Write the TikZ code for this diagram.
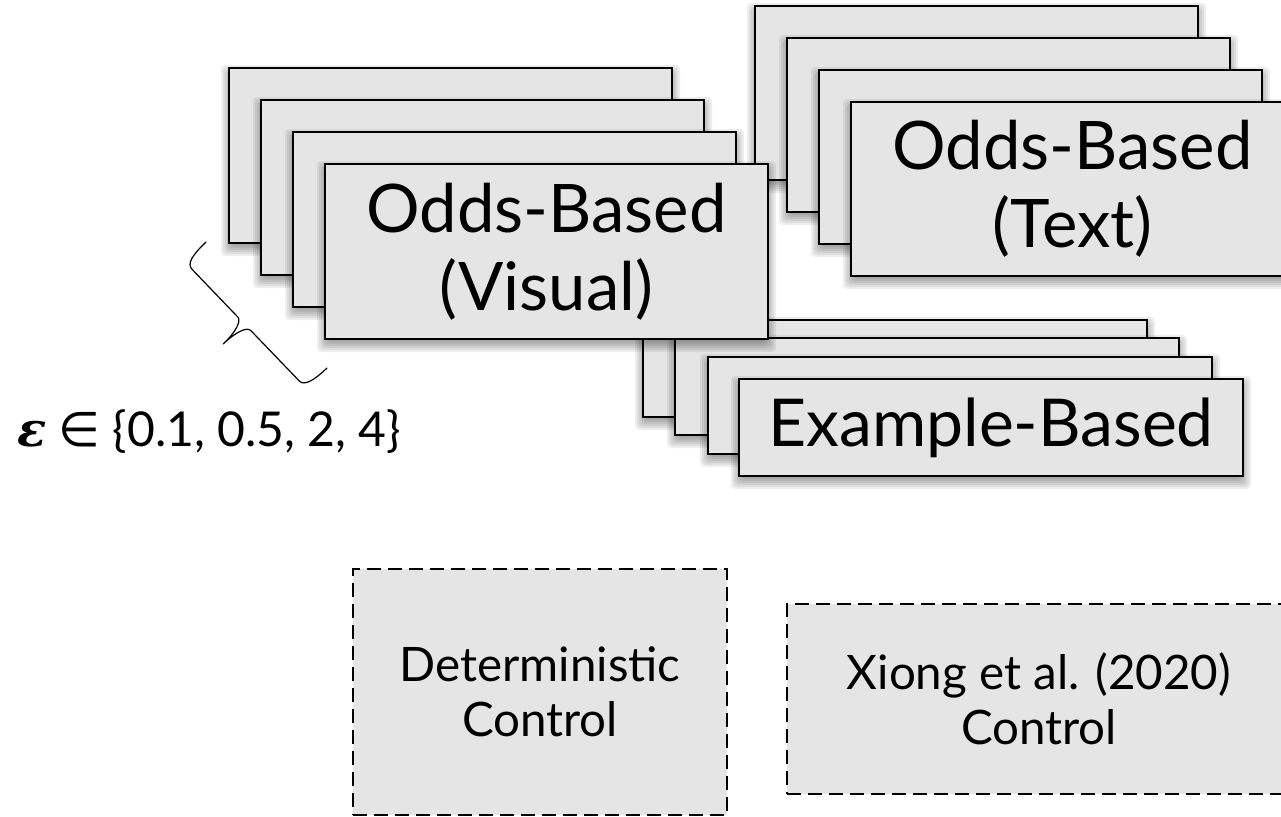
\documentclass[tikz,border=0pt]{standalone}
\usepackage{fontspec}
\setmainfont{Lato}
\newfontfamily\epsfont{DejaVu Serif}
\newfontfamily\symbfont{DejaVu Sans}
\definecolor{boxgray}{RGB}{229,229,229}
\tikzset{
  solidbox/.style={draw=black, fill=boxgray, line width=1.6pt, rectangle, inner sep=0pt, outer sep=0pt, align=center, font=\fontsize{67}{78}\selectfont},
  oddsbox/.style={solidbox, minimum width=443pt, minimum height=175pt},
  exbox/.style={solidbox, minimum width=504pt, minimum height=97pt, font=\fontsize{66}{76}\selectfont},
  dashbox/.style={draw=black, fill=boxgray, line width=2.6pt, dash pattern=on 14pt off 7pt, rectangle, inner sep=0pt, align=center, font=\fontsize{47.5}{55}\selectfont},
  bracestyle/.style={draw=black, line width=1.2pt, line cap=round, line join=round},
}
\newcommand\softshadow[4]{%
  \foreach \e in {-4,-2,0,2,4,6,8}{%
    \fill[black, fill opacity=0.065, rounded corners=4pt] ({#1-(\e)},{#2+5-(\e)}) rectangle ({#3+(\e)},{#4+5+(\e)});
  }%
}
\begin{document}
\begin{tikzpicture}[x=1pt,y=-1pt]
\useasboundingbox (0,0) rectangle (1281,816);
\fill[white] (0,0) rectangle (1281,816);
\clip (0,0) rectangle (1281,816);

% Text stack
\softshadow{755}{6}{1198}{180}
\node[oddsbox, minimum height=174pt] (t1) at (976.5,93) {};
\softshadow{787}{38}{1230}{212}
\node[oddsbox, minimum height=174pt] (t2) at (1008.5,125) {};
\softshadow{819}{70}{1262}{244}
\node[oddsbox, minimum height=174pt] (t3) at (1040.5,157) {};
\softshadow{851}{102}{1294}{276}
\node[oddsbox, minimum height=174pt] (t4) at (1072.5,189) {Odds-Based\\(Text)};

% Example stack
\softshadow{643}{320}{1147}{417}
\node[exbox] (e1) at (895,368.5) {};
\softshadow{675}{338}{1179}{435}
\node[exbox] (e2) at (927,386.5) {};
\softshadow{708}{357}{1212}{454}
\node[exbox] (e3) at (960,405.5) {};
\softshadow{739}{379}{1243}{476}
\node[exbox] (e4) at (991,427.5) {Example-Based};

% Visual stack
\softshadow{229}{68}{672}{243}
\node[oddsbox] (v1) at (450.5,155.5) {};
\softshadow{261}{100}{704}{275}
\node[oddsbox] (v2) at (482.5,187.5) {};
\softshadow{293}{132}{736}{307}
\node[oddsbox] (v3) at (514.5,219.5) {};
\softshadow{325}{164}{768}{339}
\node[oddsbox] (v4) at (546.5,251.5) {Odds-Based\\(Visual)};

% Brace
\begin{scope}[shift={(206,242)}, rotate=-46.16]
\draw[bracestyle] (0,0) .. controls (0,18) and (2,29) .. (10,29) -- (76,29)
  .. controls (82,29) and (85.5,42) .. (85.5,58)
  .. controls (85.5,42) and (89,29) .. (95,29) -- (165,29)
  .. controls (172,29) and (174.7,18) .. (174.7,0);
\end{scope}

% epsilon label
\node[anchor=base west, inner sep=0pt, font=\fontsize{48}{52}\selectfont] (eps) at (17,446) {{\epsfont\bfseries\itshape ε} {\symbfont ∈} \{0.1, 0.5, 2, 4\}};

% Controls
\node[dashbox, minimum width=374pt, minimum height=246pt] (det) at (540,692) {Deterministic\\Control};
\node[dashbox, minimum width=504pt, minimum height=190pt] (xiong) at (1039,699) {Xiong et al. (2020)\\Control};
\end{tikzpicture}
\end{document}
